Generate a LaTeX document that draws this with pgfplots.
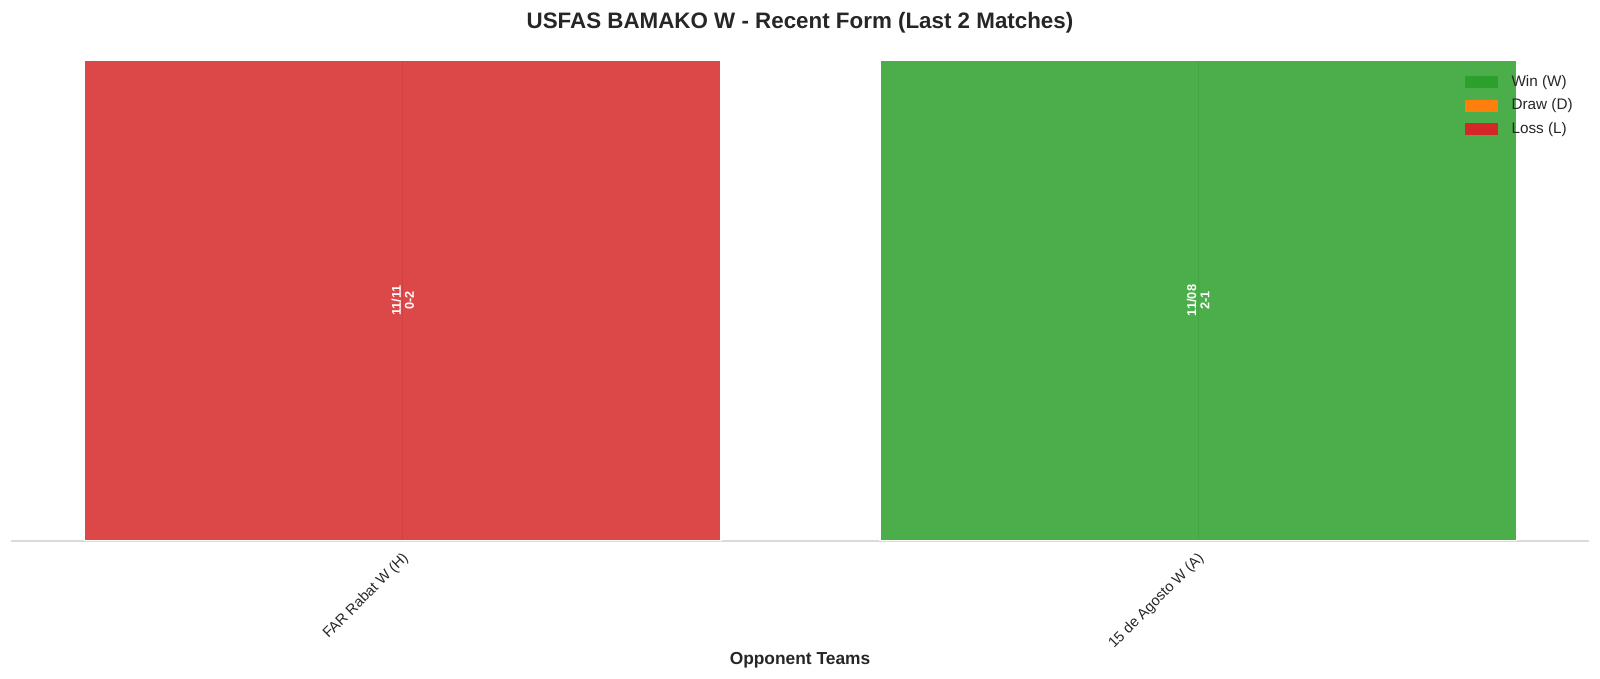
\documentclass[border=0pt]{standalone}
\usepackage{fontspec}
\setmainfont{Liberation Sans}
\usepackage{pgfplots}
\pgfplotsset{compat=1.18}

\newlength\px
\setlength\px{0.72pt}

\definecolor{winC}{RGB}{44,160,44}
\definecolor{drawC}{RGB}{255,127,14}
\definecolor{lossC}{RGB}{214,39,40}
\definecolor{txt}{RGB}{38,38,38}
\definecolor{spine}{RGB}{218,218,218}

\begin{document}
\begin{tikzpicture}
\useasboundingbox (-11\px,-138\px) rectangle (1589\px,541\px);
\begin{axis}[
  at={(0,0)}, anchor=south west,
  scale only axis,
  width=1578\px, height=481\px,
  xmin=-0.4926, xmax=1.4914,
  ymin=0, ymax=1,
  axis x line*=bottom,
  axis y line=none,
  x axis line style={spine, line width=1.2pt, -},
  xtick={0,1},
  xticklabels={FAR Rabat W (H), 15 de Agosto W (A)},
  ytick=\empty,
  major tick length=0pt,
  xticklabel style={rotate=45, anchor=north east, inner sep=0pt,
    xshift=-8\px, yshift=-6\px,
    font=\fontsize{10.5}{12}\selectfont, text=txt},
  xmajorgrids,
  grid style={black!20, line width=0.8pt},
  title={USFAS BAMAKO W - Recent Form (Last 2 Matches)},
  title style={at={(axis description cs:0.5,1)}, anchor=base, yshift=23\px,
    font=\bfseries\fontsize{16.1}{18}\selectfont, text=txt},
  xlabel={Opponent Teams},
  xlabel style={at={(axis description cs:0.5,0)}, anchor=base, yshift=-124\px,
    font=\bfseries\fontsize{12.5}{14}\selectfont, text=txt},
  legend style={at={(axis description cs:0.9214,0.968)}, anchor=north west,
    draw=none, fill=none, inner sep=0pt, outer sep=0pt,
    font=\fontsize{11}{13}\selectfont, text=txt,
    nodes={inner sep=0pt, text height=11\px, text depth=3\px},
    row sep=9.5\px,
    /tikz/column 1/.style={column sep=14\px}},
  legend cell align=left,
]
% results: one bar per match, height 1
\addplot[ybar, bar width=0.8, bar shift=0pt, fill=lossC, fill opacity=0.85,
  draw=white, line width=1.1pt, forget plot] coordinates {(0,1)};
\addplot[ybar, bar width=0.8, bar shift=0pt, fill=winC, fill opacity=0.85,
  draw=white, line width=1.1pt, forget plot] coordinates {(1,1)};

\addlegendimage{legend image code/.code={\fill[winC] (0,-5\px) rectangle (32\px,6\px);}}
\addlegendentry{Win (W)}
\addlegendimage{legend image code/.code={\fill[drawC] (0,-5\px) rectangle (32\px,6\px);}}
\addlegendentry{Draw (D)}
\addlegendimage{legend image code/.code={\fill[lossC] (0,-5\px) rectangle (32\px,6\px);}}
\addlegendentry{Loss (L)}

\node[rotate=90, align=center, text=white, inner sep=0pt,
  font=\bfseries\fontsize{9.2}{9.5}\selectfont] at (axis cs:0,0.5) {11/11\\0-2};
\node[rotate=90, align=center, text=white, inner sep=0pt,
  font=\bfseries\fontsize{9.2}{9.5}\selectfont] at (axis cs:1,0.5) {11/08\\2-1};
\end{axis}
\end{tikzpicture}
\end{document}
